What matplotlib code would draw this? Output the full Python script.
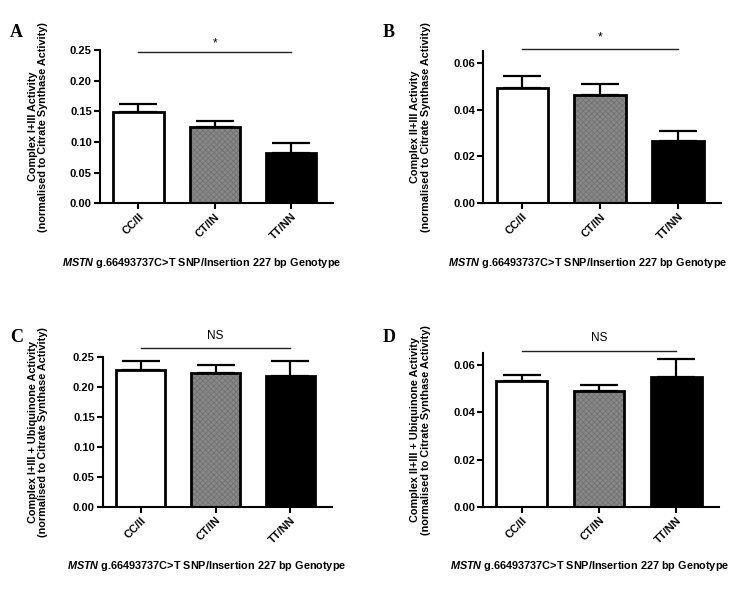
import matplotlib
matplotlib.use("Agg")
import matplotlib.pyplot as plt

plt.rcParams['font.family'] = ['Liberation Sans', 'DejaVu Sans']
plt.rcParams['hatch.linewidth'] = 0.6
plt.rcParams['mathtext.fontset'] = 'custom'
plt.rcParams['mathtext.bfit'] = 'Liberation Sans:italic:bold'
plt.rcParams['mathtext.it'] = 'Liberation Sans:italic:bold'

genotypes = ["CC/II", "CT/IN", "TT/NN"]

# mean and SEM per panel
means_a = [0.149, 0.124, 0.082]
sem_a = [0.013, 0.010, 0.016]
means_b = [0.0495, 0.0465, 0.0265]
sem_b = [0.005, 0.0047, 0.0045]
means_c = [0.228, 0.224, 0.218]
sem_c = [0.015, 0.013, 0.026]
means_d = [0.053, 0.0488, 0.0547]
sem_d = [0.0028, 0.0027, 0.0078]

ylabels = ["Complex I+III Activity\n(normalised to Citrate Synthase Activity)",
           "Complex II+III Activity\n(normalised to Citrate Synthase Activity)",
           "Complex I+III + Ubiquinone Activity\n(normalised to Citrate Synthase Activity)",
           "Complex II+III + Ubiquinone Activity\n(normalised to Citrate Synthase Activity)"]
sig_text = ["*", "*", "NS", "NS"]
letters = ["A", "B", "C", "D"]

bar_fc = ["white", "#888888", "black"]

fig = plt.figure(figsize=(7.47, 5.94), dpi=100)
fig.patch.set_facecolor("white")

# [left, bottom, width, height], ylim top, tick step, sig line y, sig text y
panels = [
    ([0.134, 0.658, 0.312, 0.2575], 0.25, 0.05, 0.247, 0.252, means_a, sem_a),
    ([0.647, 0.658, 0.318, 0.2555], 0.065, 0.02, 0.066, 0.0685, means_b, sem_b),
    ([0.138, 0.1465, 0.306, 0.2525], 0.25, 0.05, 0.265, 0.275, means_c, sem_c),
    ([0.647, 0.1465, 0.315, 0.2592], 0.065, 0.02, 0.0659, 0.069, means_d, sem_d),
]
letter_pos = [(0.013, 0.945), (0.512, 0.945), (0.013, 0.431), (0.512, 0.431)]
ylabel_x = [0.051, 0.563, 0.051, 0.563]
xlabel_xy = [(0.270, 0.557), (0.786, 0.557), (0.276, 0.047), (0.790, 0.047)]

x = list(range(len(genotypes)))
for i, (rect, ytop, step, sig_y, txt_y, means, sem) in enumerate(panels):
    ax = fig.add_axes(rect)
    # bar fill (with fine hatch on the heterozygote bar)
    fills = ax.bar(x, means, width=0.66, color=bar_fc, linewidth=0, zorder=2)
    fills[1].set_hatch("xxxxxx")
    fills[1].set_edgecolor("#727272")
    ax.bar(x, means, width=0.66, fill=False, edgecolor="black", linewidth=2, zorder=3)
    ax.errorbar(x, means, yerr=[[0] * 3, sem], fmt="none", ecolor="black",
                elinewidth=1.6, capsize=13.5, capthick=1.6, zorder=1)

    ax.set_xlim(-0.5, 2.55)
    ax.set_ylim(0, ytop)
    ticks = [round(k * step, 3) for k in range(int(ytop / step + 1e-6) + 1)]
    ax.set_yticks(ticks)
    ax.set_yticklabels([f"{t:.2f}" for t in ticks], fontweight="bold", fontsize=8)
    ax.set_xticks(x)
    ax.set_xticklabels(genotypes, rotation=45, ha="right", rotation_mode="anchor",
                       fontweight="bold", fontsize=8)
    for s in ["top", "right"]:
        ax.spines[s].set_visible(False)
    for s in ["left", "bottom"]:
        ax.spines[s].set_linewidth(1.5)
    ax.tick_params(axis="both", direction="out", length=4, width=1.5, pad=2)
    ax.set_facecolor("none")

    # significance bar
    ax.plot([0, 2], [sig_y, sig_y], color="#222222", linewidth=1.0, clip_on=False)
    ax.text(1, txt_y, sig_text[i], ha="center", va="bottom", fontsize=8.5, clip_on=False)

    fig.text(ylabel_x[i], rect[1] + rect[3] / 2, ylabels[i], rotation=90,
             ha="center", va="center", fontsize=7.8, fontweight="bold", linespacing=1.1)
    fig.text(xlabel_xy[i][0], xlabel_xy[i][1],
             r"$\mathit{MSTN}$ g.66493737C>T SNP/Insertion 227 bp Genotype",
             ha="center", va="center", fontsize=7.8, fontweight="bold")
    fig.text(letter_pos[i][0], letter_pos[i][1], letters[i], ha="left", va="center",
             fontsize=13, fontweight="bold", family="Liberation Serif")

fig.savefig("out.png", dpi=100)
